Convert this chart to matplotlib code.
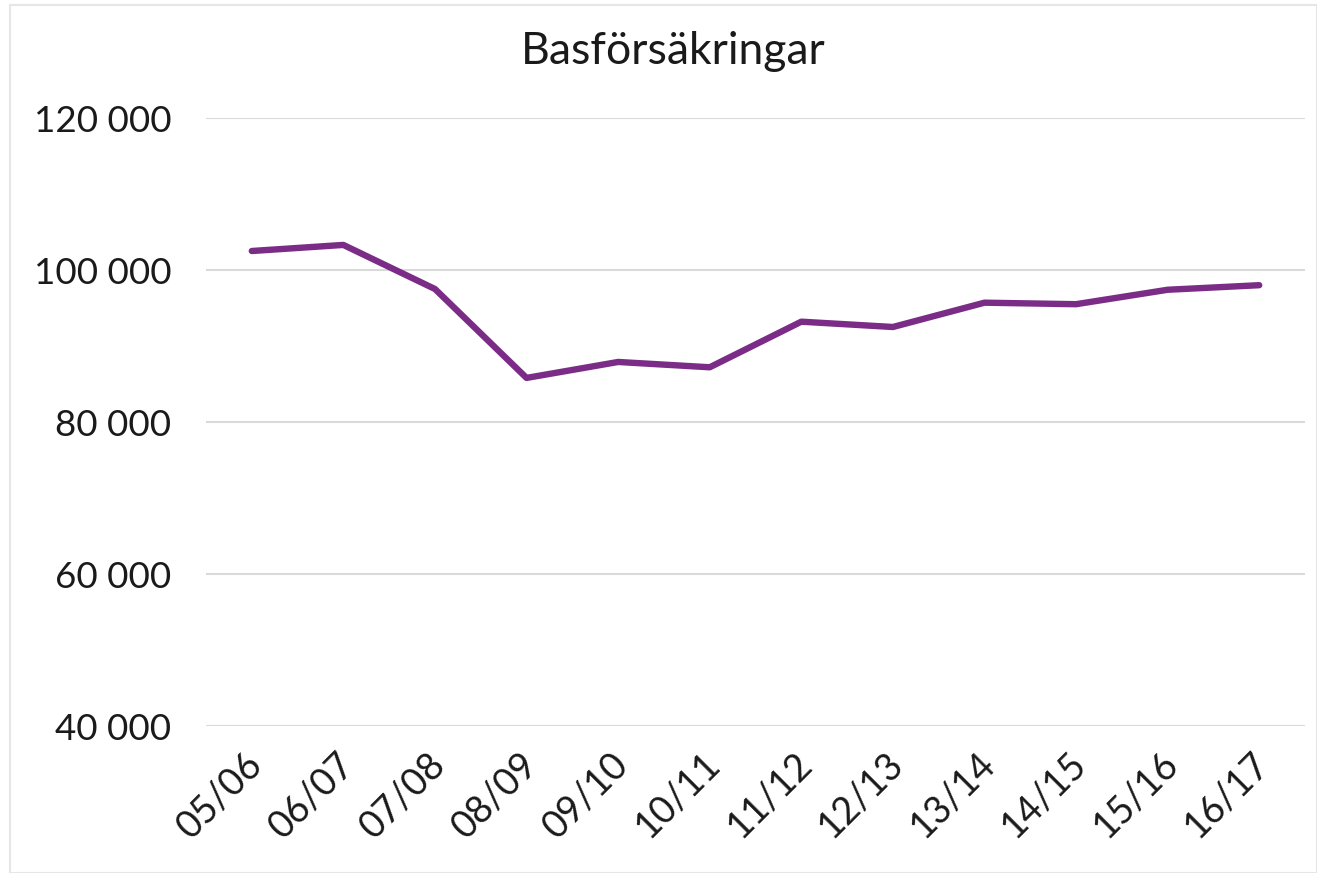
import matplotlib.pyplot as plt
import matplotlib.transforms as mtransforms
from matplotlib.ticker import FuncFormatter
from matplotlib.patches import Rectangle

plt.rcParams['font.family'] = ['Lato', 'DejaVu Sans']

seasons = ['05/06', '06/07', '07/08', '08/09', '09/10', '10/11',
           '11/12', '12/13', '13/14', '14/15', '15/16', '16/17']
values = [102500, 103300, 97500, 85800, 87900, 87200,
          93200, 92500, 95700, 95500, 97400, 98000]
y_ticks = [40000, 60000, 80000, 100000, 120000]

fig = plt.figure(figsize=(13.17, 8.73), dpi=100)
ax = fig.add_axes([206 / 1317, 1 - 726 / 873, 1099 / 1317, 608 / 873])

# light frame round the chart area
fig.patches.append(Rectangle((10 / 1317, 0), 1307 / 1317, 1 - 5 / 873,
                             transform=fig.transFigure, fill=False,
                             edgecolor='#e6e6e6', linewidth=1.5))

x = list(range(len(seasons)))
ax.plot(x, values, color='#7b2c87', linewidth=4.6, solid_capstyle='round')

ax.set_xlim(-0.5, len(seasons) - 0.5)
ax.set_ylim(40000, 120000)
ax.set_yticks(y_ticks)
ax.yaxis.set_major_formatter(FuncFormatter(lambda v, p: f'{int(v):,}'.replace(',', ' ')))
ax.set_xticks(x)
ax.set_xticklabels(seasons, rotation=45, ha='right', rotation_mode='anchor')

ax.grid(axis='y', color='#d9d9d9', linewidth=1.5)
ax.set_axisbelow(True)
for s in ax.spines.values():
    s.set_visible(False)
ax.tick_params(axis='both', length=0, labelsize=26.5, labelcolor='#1a1a1a')
ax.tick_params(axis='x', labelsize=27, pad=14)
ax.tick_params(axis='y', pad=25)

# nudge the slanted labels a bit left
shift = mtransforms.ScaledTranslation(-8 / 100, 0, fig.dpi_scale_trans)
for lab in ax.get_xticklabels():
    lab.set_transform(lab.get_transform() + shift)

fig.text(0.511, 1 - 52 / 873, 'Basförsäkringar', ha='center', va='center',
         fontsize=32, color='#1a1a1a')

fig.savefig('out.png', dpi=100)
